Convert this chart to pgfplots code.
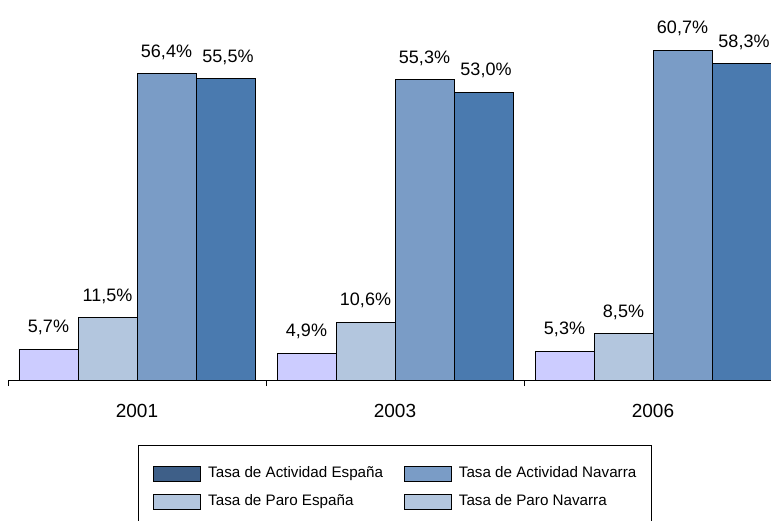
\documentclass[border=0pt]{standalone}
\usepackage{pgfplots}
\pgfplotsset{compat=1.18}
\usepackage{fontspec}
\setmainfont{Liberation Sans}
\definecolor{lav}{HTML}{CCCCFF}
\definecolor{lblue}{HTML}{B3C6DE}
\definecolor{mblue}{HTML}{7A9CC6}
\definecolor{dblue}{HTML}{4A7AAF}
\definecolor{navy}{HTML}{3E5F88}
\begin{document}
\begin{tikzpicture}[x=1pt,y=1pt]
\path[use as bounding box, clip] (0,0) rectangle (771,520);
\begin{axis}[
  at={(8pt,140pt)}, anchor=south west,
  scale only axis, width=774pt, height=380pt,
  xmin=-0.5, xmax=2.5, ymin=0, ymax=70,
  hide y axis,
  axis x line*=bottom,
  axis line style={-, black, line width=0.8pt},
  ybar, bar width=59pt,
  xtick={0,1,2}, xticklabels={2001,2003,2006},
  major tick length=0pt,
  minor xtick={-0.5,0.5,1.5,2.5},
  minor tick length=6pt,
  minor tick style={black, line width=0.8pt},
  tick align=outside,
  xticklabel style={font=\fontsize{19}{19}\selectfont, anchor=base, yshift=-37pt, inner sep=0pt},
  /pgf/number format/assume math mode=true,
  nodes near coords={\pgfmathprintnumber[fixed, fixed zerofill, precision=1, use comma]{\pgfplotspointmeta}\%},
  every node near coord/.append style={font=\fontsize{18}{18}\selectfont, anchor=base, yshift=16.5pt, inner sep=0pt, text=black},
  legend columns=2,
  legend cell align=left,
  legend image code/.code={\draw[#1, draw=black, line width=0.8pt] (0pt,-7.5pt) rectangle (47pt,7.5pt);},
  legend style={
    at={(0.16796,-0.17105)}, anchor=north west,
    draw=black, line width=0.8pt,
    font=\fontsize{15.2}{18}\selectfont,
    inner xsep=15pt, inner ysep=21pt,
    row sep=11.5pt,
    nodes={inner sep=0pt, text height=11pt, text depth=4pt},
    /tikz/every odd column/.append style={column sep=7pt},
    /tikz/every even column/.append style={column sep=21pt},
  },
]
\addplot[fill=lav, draw=black, line width=0.8pt, bar shift=-88.5pt, forget plot] coordinates {(0,5.7) (1,4.9) (2,5.3)};
\addplot[fill=lblue, draw=black, line width=0.8pt, bar shift=-29.5pt, forget plot] coordinates {(0,11.5) (1,10.6) (2,8.5)};
\addplot[fill=mblue, draw=black, line width=0.8pt, bar shift=29.5pt, forget plot] coordinates {(0,56.4) (1,55.3) (2,60.7)};
\addplot[fill=dblue, draw=black, line width=0.8pt, bar shift=88.5pt, forget plot,
  every node near coord/.append style={xshift=2.5pt}] coordinates {(0,55.5) (1,53.0) (2,58.3)};
\addlegendimage{fill=navy}
\addlegendentry{Tasa de Actividad España}
\addlegendimage{fill=mblue}
\addlegendentry{Tasa de Actividad Navarra}
\addlegendimage{fill=lblue}
\addlegendentry{Tasa de Paro España}
\addlegendimage{fill=lblue}
\addlegendentry{Tasa de Paro Navarra}
\end{axis}
\end{tikzpicture}
\end{document}
